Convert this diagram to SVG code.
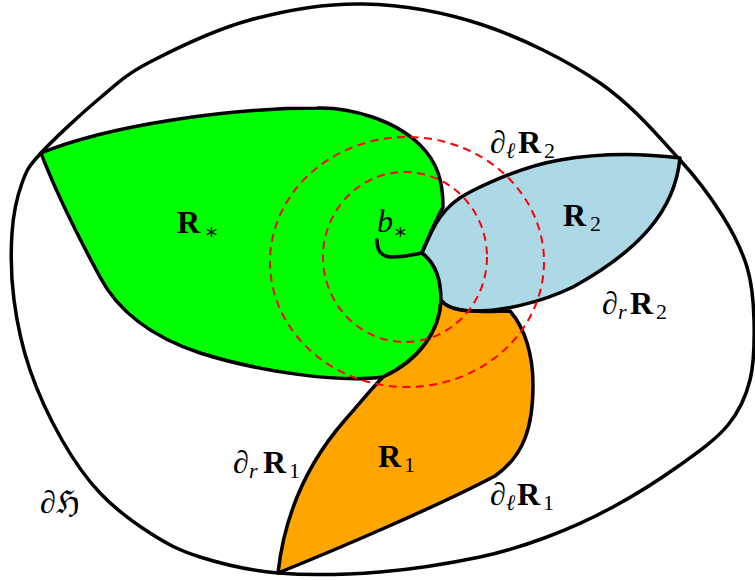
<svg xmlns="http://www.w3.org/2000/svg" width="755" height="580" viewBox="0 0 755 580">
<style>
.reg{stroke:#000;stroke-width:3.5;stroke-linejoin:round}
.dash{fill:none;stroke:#ff0000;stroke-width:2;stroke-dasharray:8 5.5}
text{font-family:'Liberation Serif','DejaVu Serif',serif;fill:#000;font-size:32px}
.b{font-weight:bold}
.s{font-size:22px;font-weight:normal}
.i{font-style:italic}
</style>
<rect width="755" height="580" fill="#fff"/>
<g id="outer">
<path class="reg" fill="#fff" d="M363,4 C401.8,4.8 443.5,11.8 483,25 C522.5,38.2 567.2,60.5 600,83 C632.8,105.5 659.7,138 680,160 C700.3,182 710.8,197.2 722,215 C733.2,232.8 741.7,249.5 747,267 C752.3,284.5 753.5,301.2 754,320 C754.5,338.8 754.3,362.5 750,380 C745.7,397.5 739.7,410.8 728,425 C716.3,439.2 699.2,451.3 680,465 C660.8,478.7 635.2,495 613,507 C590.8,519 569.2,528.7 547,537 C524.8,545.3 507.8,551.2 480,557 C452.2,562.8 413.7,569.3 380,572 C346.3,574.7 308,575.5 278,573 C248,570.5 221.3,563.7 200,557 C178.7,550.3 166.7,543.7 150,533 C133.3,522.3 114.7,508.5 100,493 C85.3,477.5 73.7,460.5 62,440 C50.3,419.5 38,393.3 30,370 C22,346.7 17,322.8 14,300 C11,277.2 10.7,252.5 12,233 C13.3,213.5 17.2,196.3 22,183 C26.8,169.7 28,167.2 41,153 C54,138.8 81.8,113.2 100,98 C118.2,82.8 125,75 150,62 C175,49 214.5,29.7 250,20 C285.5,10.3 324.2,3.2 363,4 Z"/>
</g>
<g id="Rstar">
<path class="reg" fill="#00ff00" d="M41,153 C110,125 230,108 317,108 C350,107 395,120 420,145 C437,162 443,180 443,207 C436,220 428,238 422,253 C433,261 441,276 441,300 C440,330 420,360 383,377 C340,383 260,372 200,353 C155,338 120,315 100,277 C80,240 55,190 41,153 Z"/>
</g>
<g id="R2">
<path class="reg" fill="#add8e6" d="M422,253 C432,230 440,207 470,192 C500,177 530,165 560,160 C600,153 640,153 680,158 C675,210 640,250 573,287 C540,303 500,312 470,311 C455,310 445,306 441,300 C441,276 433,261 422,253 Z"/>
</g>
<g id="R1">
<path class="reg" fill="#ffa500" d="M441,300 C445,306 455,310 470,311 C485,312 500,311 510,311 C525,328 533,355 533,385 C533,425 525,455 495,476 C440,505 340,548 278,573 C285,510 310,460 345,420 C360,403 372,388 383,377 C420,360 440,330 441,300 Z"/>
</g>
<g id="connectors">
<ellipse class="dash" cx="407" cy="262" rx="137" ry="125"/>
<ellipse class="dash" cx="405" cy="257" rx="82" ry="85"/>
<path fill="none" stroke="#000" stroke-width="3.5" stroke-linecap="round" d="M377,240 C377,252 382,257 392,257 C403,257 412,255 422,253"/>
</g>
<g id="labels">
<text x="177" y="233"><tspan class="b">R</tspan><tspan class="s" x="204" y="239">∗</tspan></text>
<text x="377" y="232"><tspan class="i">b</tspan><tspan class="s" x="393" y="239">∗</tspan></text>
<text x="490" y="153">∂<tspan class="s i" x="506" y="158">ℓ</tspan><tspan class="b" x="518" y="153">R</tspan><tspan class="s" x="544" y="158">2</tspan></text>
<text x="563" y="226"><tspan class="b">R</tspan><tspan class="s" x="590" y="231">2</tspan></text>
<text x="602" y="314">∂<tspan class="s i" x="618" y="319">r</tspan><tspan class="b" x="630" y="314">R</tspan><tspan class="s" x="656" y="319">2</tspan></text>
<text x="378" y="467"><tspan class="b">R</tspan><tspan class="s" x="404" y="472">1</tspan></text>
<text x="233" y="473">∂<tspan class="s i" x="249" y="478">r</tspan><tspan class="b" x="263" y="473">R</tspan><tspan class="s" x="289" y="478">1</tspan></text>
<text x="490" y="505">∂<tspan class="s i" x="506" y="510">ℓ</tspan><tspan class="b" x="517" y="505">R</tspan><tspan class="s" x="543" y="510">1</tspan></text>
<text x="40" y="513">∂ℌ</text>
</g>
</svg>
